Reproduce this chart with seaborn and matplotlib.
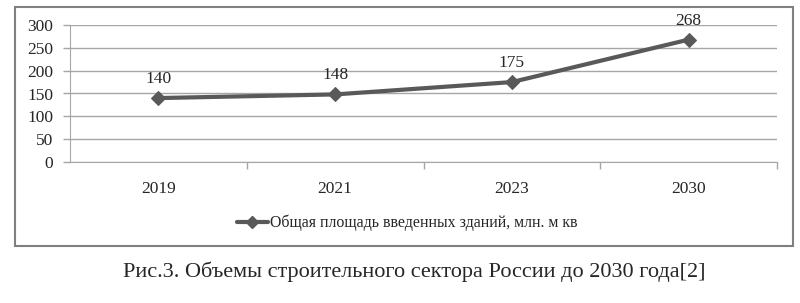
import matplotlib
matplotlib.use("Agg")
import matplotlib.pyplot as plt
import seaborn as sns
import pandas as pd
from matplotlib.patches import Rectangle
from matplotlib.lines import Line2D

years = ["2019", "2021", "2023", "2030"]
values = [140, 148, 175, 268]
series_name = "Общая площадь введенных зданий, млн. м кв"
caption = "Рис.3. Объемы строительного сектора России до 2030 года[2]"
y_ticks = [0, 50, 100, 150, 200, 250, 300]

sns.set_style("white")
plt.rcParams['font.family'] = ['Liberation Serif', 'DejaVu Serif']

df = pd.DataFrame({"pos": list(range(len(years))), "value": values})

W, H = 800, 303
fig = plt.figure(figsize=(W / 100, H / 100), dpi=100)
fig.patch.set_facecolor("white")

# outer chart frame
fig.add_artist(Rectangle((15 / W, 1 - 246 / H), (793 - 15) / W, (246 - 7) / H,
                         transform=fig.transFigure, fill=False,
                         edgecolor="#808080", linewidth=1.5))

ax = fig.add_axes([70 / W, 1 - 162 / H, (777 - 70) / W, (162 - 25) / H])
line_color = "#595959"
sns.lineplot(data=df, x="pos", y="value", ax=ax, color=line_color, linewidth=3,
             marker="D", markersize=7, markeredgecolor=line_color, legend=False)

grid_color = "#a6a6a6"
ax.set_xlim(-0.5, len(years) - 0.5)
ax.set_ylim(0, 300)
ax.set_yticks(y_ticks)
ax.set_yticklabels([str(t) for t in y_ticks], fontsize=12.5)
ax.set_xticks(range(len(years)))
ax.set_xticklabels(years, fontsize=12.5)
ax.tick_params(axis="x", length=0, pad=14)
ax.tick_params(axis="y", length=5, width=1, color=grid_color, direction="out", pad=7, left=True)
# category boundary tick marks
ax.set_xticks([i + 0.5 for i in range(len(years))], minor=True)
ax.tick_params(axis="x", which="minor", length=5, width=1, color=grid_color, direction="out", bottom=True)

ax.grid(axis="y", color=grid_color, linewidth=1)
ax.grid(axis="x", visible=False)
ax.set_axisbelow(True)
for s in ["top", "right"]:
    ax.spines[s].set_visible(False)
ax.spines["left"].set_color(grid_color)
ax.spines["bottom"].set_color(grid_color)
ax.set_xlabel("")
ax.set_ylabel("")

for i, v in enumerate(values):
    ax.annotate(str(v), (i, v), xytext=(0, 8), textcoords="offset points",
                ha="center", va="bottom", fontsize=12.5)

handle = Line2D([], [], color=line_color, linewidth=3, marker="D", markersize=6)
fig.legend([handle], [series_name], loc="center", bbox_to_anchor=(407 / W, 1 - 223 / H),
           frameon=False, fontsize=11.4, handlelength=2.0, handletextpad=0.1)

fig.text(414 / W, 1 - 272 / H, caption, ha="center", va="center", fontsize=16)

fig.savefig("out.png", dpi=100, facecolor="white")
